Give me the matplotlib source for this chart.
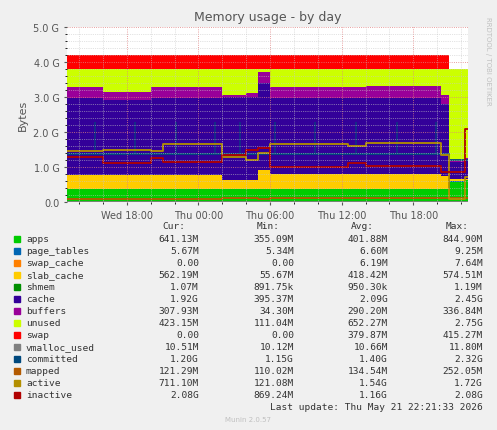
import numpy as np
import matplotlib
matplotlib.use("Agg")
import matplotlib.pyplot as plt

# hours since Wed 00:00, segment breakpoints
T = [13, 16, 20, 21, 26, 28, 29, 30, 36.5, 38, 44.3, 45, 46.3, 46.6]

# stacked areas (GB per segment)
apps = [.36, .36, .36, .36, .36, .36, .36, .36, .36, .36, .36, .58, .62]
page_tables = [.006] * 13
swap_cache = [.006] * 12 + [0]
slab_cache = [.41, .39, .41, .39, .25, .25, .55, .43, .43, .43, .38, .07, .03]
shmem = [.001] * 13
cache = [2.2, 2.14, 2.2, 2.22, 2.38, 2.38, 2.48, 2.18, 2.18, 2.18, 2.05, .49, .54]
buffers = [.30, .25, .30, .30, .05, .10, .30, .30, .30, .32, .25, .02, .05]
unused = [.53, .66, .53, .53, .76, .71, .11, .53, .53, .51, .76, 2.64, 2.56]
swap = [.40] * 11 + [0, 0]

# lines
vmalloc_used = [.011] * 13
committed = [1.38] * 10 + [1.38, 1.2, 1.2]
mapped = [.10, .10, .10, .10, .12, .12, .10, .12, .12, .12, .12, .12, .12]
active = [1.45, 1.5, 1.47, 1.65, 1.3, 1.2, 1.4, 1.67, 1.6, 1.7, 1.35, .1, .71]
inactive = [1.3, 1.12, 1.27, 1.13, 1.35, 1.5, 1.55, 1.0, 1.12, 1.02, .85, .85, 2.08]
spike_hours = [15.3, 18.7, 22.1, 25.4, 27.5, 30.4, 33.8, 37.2, 40.6, 43.9]

names = ["apps", "page_tables", "swap_cache", "slab_cache", "shmem", "cache",
         "buffers", "unused", "swap", "vmalloc_used", "committed", "mapped",
         "active", "inactive"]
colors = ["#00CC00", "#0066B3", "#FF8000", "#FFCC00", "#008F00", "#330099",
          "#990099", "#CCFF00", "#FF0000", "#808080", "#00487D", "#B35A00",
          "#B38F00", "#B00000"]
cur = ["641.13M", "5.67M", "0.00", "562.19M", "1.07M", "1.92G", "307.93M",
       "423.15M", "0.00", "10.51M", "1.20G", "121.29M", "711.10M", "2.08G"]
mins = ["355.09M", "5.34M", "0.00", "55.67M", "891.75k", "395.37M", "34.30M",
        "111.04M", "0.00", "10.12M", "1.15G", "110.02M", "121.08M", "869.24M"]
avgs = ["401.88M", "6.60M", "6.19M", "418.42M", "950.30k", "2.09G", "290.20M",
        "652.27M", "379.87M", "10.66M", "1.40G", "134.54M", "1.54G", "1.16G"]
maxs = ["844.90M", "9.25M", "7.64M", "574.51M", "1.19M", "2.45G", "336.84M",
        "2.75G", "415.27M", "11.80M", "2.32G", "252.05M", "1.72G", "2.08G"]


def ext(v):
    return list(v) + [v[-1]]


fig = plt.figure(figsize=(4.97, 4.31), dpi=100, facecolor="#F0F0F0")
ax = fig.add_axes([0.135, 0.529, 0.807, 0.406])
ax.set_facecolor("white")

stack = [apps, page_tables, swap_cache, slab_cache, shmem, cache, buffers, unused, swap]
ax.stackplot(T, *[ext(s) for s in stack], colors=colors[:9], step="post")
ax.vlines(spike_hours, 1.38, 2.3, color="#00487D", lw=1.2, alpha=0.7)
for s, c in zip([vmalloc_used, committed, mapped, active, inactive], colors[9:]):
    ax.step(T, ext(s), where="post", color=c, lw=1.3)

ax.set_xlim(13, 46.6)
ax.set_ylim(0, 5.0)
ax.set_yticks(np.arange(0, 5.01, 1.0))
ax.set_yticklabels(["0.0", "1.0 G", "2.0 G", "3.0 G", "4.0 G", "5.0 G"])
ax.set_yticks(np.arange(0, 5.01, 0.2), minor=True)
ax.set_xticks([18, 24, 30, 36, 42])
ax.set_xticklabels(["Wed 18:00", "Thu 00:00", "Thu 06:00", "Thu 12:00", "Thu 18:00"])
ax.set_xticks(np.arange(14, 46.6, 2), minor=True)
ax.grid(which="major", axis="y", color="#E08080", ls=":", lw=0.6)
ax.grid(which="minor", color="#C8C8C8", ls=":", lw=0.5)
ax.grid(which="major", axis="x", color="#E08080", ls=":", lw=0.6)
ax.set_axisbelow(False)
for sp in ax.spines.values():
    sp.set_visible(False)
ax.tick_params(labelsize=7, colors="#555555", length=2)
ax.tick_params(which="minor", length=1.5)
ax.set_ylabel("Bytes", fontsize=8, color="#555555")
ax.set_title("Memory usage - by day", fontsize=9, color="#555555", pad=5)
fig.text(0.982, 0.96, "RRDTOOL / TOBI OETIKER", rotation=270, fontsize=5,
         color="#C0C0C0", va="top", ha="center")

mono = "DejaVu Sans Mono"
H = 431.0
fs = 6.8
for x, h in zip([199, 294, 388, 483], ["Cur:", "Min:", "Avg:", "Max:"]):
    fig.text((x - 14) / 497, 1 - 227 / H, h, family=mono, fontsize=fs,
             color="#333333", ha="right", va="center")
for i, n in enumerate(names):
    y = 1 - (240 + 12 * i) / H
    fig.patches.append(plt.Rectangle((14 / 497, y - 3 / H), 6 / 497, 6 / H,
                                     transform=fig.transFigure, color=colors[i]))
    fig.text(26 / 497, y, n, family=mono, fontsize=fs, color="#333333", va="center")
    for x, v in zip([199, 294, 388, 483], [cur[i], mins[i], avgs[i], maxs[i]]):
        fig.text(x / 497, y, v, family=mono, fontsize=fs, color="#333333",
                 ha="right", va="center")
fig.text(483 / 497, 1 - 408 / H, "Last update: Thu May 21 22:21:33 2026",
         family=mono, fontsize=fs, color="#333333", ha="right", va="center")
fig.text(248 / 497, 1 - 420 / H, "Munin 2.0.57", fontsize=5, color="#C0C0C0",
         ha="center", va="center")

fig.savefig("out.png", dpi=100, facecolor=fig.get_facecolor())
